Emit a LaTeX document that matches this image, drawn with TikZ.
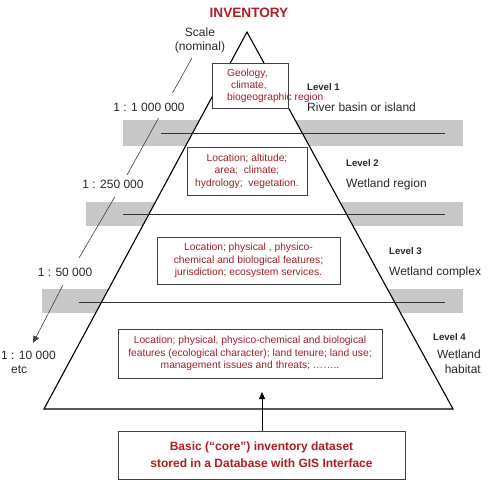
\documentclass[tikz,border=0pt]{standalone}
\usepackage{fontspec}
\setmainfont{Liberation Sans}
\usetikzlibrary{shadows,arrows.meta}
\definecolor{invred}{RGB}{178,28,36}
\definecolor{boxred}{RGB}{160,32,44}
\definecolor{bandgray}{RGB}{200,200,200}
\definecolor{txtgray}{RGB}{40,40,40}
\tikzset{
  band/.style={fill=bandgray,draw=none},
  infobox/.style={draw=black!75,line width=0.9pt,fill=white,rectangle,inner sep=0pt,
     drop shadow={shadow xshift=1.4pt,shadow yshift=-1.4pt,fill=black!45,opacity=0.8},
     text=boxred,align=center,font=\fontsize{10.3}{12.6}\selectfont},
  boxtxt/.style={text=boxred,align=left,inner sep=0pt,font=\fontsize{10.3}{12.2}\selectfont},
  lvl/.style={anchor=west,inner sep=0pt,font=\bfseries\fontsize{9.6}{11}\selectfont,text=txtgray},
  lvlname/.style={anchor=west,inner sep=0pt,font=\fontsize{12}{14.5}\selectfont,text=txtgray},
  scalelbl/.style={inner sep=0pt,font=\fontsize{12}{14}\selectfont,text=txtgray},
  scaleline/.style={draw=black!75,line width=0.6pt},
  bandline/.style={draw=black!80,line width=0.8pt},
}
\begin{document}
\begin{tikzpicture}[x=1pt,y=-1pt]
\useasboundingbox (0,0) rectangle (490,489);
% grey bands
\fill[band] (123,120) rectangle (463,146);
\fill[band] (86,202) rectangle (463,226);
\fill[band] (42,289) rectangle (463,313);
% pyramid
\coordinate (apex) at (247,32);
\coordinate (bl) at (44,409);
\coordinate (br) at (453,409);
\draw[fill=white,draw=black,line width=1.1pt,line join=miter] (apex) -- (br) -- (bl) -- cycle;
% lines in bands
\coordinate (l1a) at (161,133); \coordinate (l1b) at (445,133);
\coordinate (l2a) at (123,214); \coordinate (l2b) at (445,214);
\coordinate (l3a) at (79,302);  \coordinate (l3b) at (445,302);
\draw[bandline] (l1a) -- (l1b);
\draw[bandline] (l2a) -- (l2b);
\draw[bandline] (l3a) -- (l3b);
% title
\node[font=\bfseries\fontsize{13.6}{16}\selectfont,text=invred,inner sep=0pt] (title) at (249,13) {INVENTORY};
% boxes
\node[infobox,minimum width=76pt,minimum height=45pt] (b1) at (250,85.5) {};
\node[boxtxt,anchor=north west] (b1t) at (227,68.5) {Geology,\\\hspace*{4pt}climate,\\biogeographic region};
\node[infobox,minimum width=120pt,minimum height=48pt] (b2) at (247,171) {Location; altitude;\\area;\ \ climate;\\hydrology;\ \ vegetation.};
\node[infobox,minimum width=183pt,minimum height=47pt] (b3) at (248.5,260.5) {Location; physical , physico-\\chemical and biological features;\\jurisdiction; ecosystem services.};
\node[infobox,minimum width=264pt,minimum height=49pt] (b4) at (250,353.5) {Location; physical, physico-chemical and biological\\features (ecological character); land tenure; land use;\\management issues and threats; \ldots\ldots..};
\node[infobox,minimum width=287pt,minimum height=48pt,text=invred,font=\bfseries\fontsize{12}{17}\selectfont] (b5) at (261.5,455) {Basic (``core'') inventory dataset\\stored in a Database with GIS Interface};
% arrow from base box up
\coordinate (arrtip) at (262,392);
\draw[line width=0.9pt,-{Triangle[length=7pt,width=6pt]}] (b5.north -| arrtip) -- (arrtip);
% level labels
\node[lvl] (lv1) at (307,87) {Level 1};
\node[lvlname] (n1) at (307,107) {River basin or island};
\node[lvl] (lv2) at (346,163) {Level 2};
\node[lvlname] (n2) at (346,184) {Wetland region};
\node[lvl] (lv3) at (389,251) {Level 3};
\node[lvlname] (n3) at (389,272) {Wetland complex};
\node[lvl] (lv4) at (433,337) {Level 4};
\node[lvlname,align=right,anchor=north east] (n4) at (481,350) {Wetland\\habitat};
% scale labels
\node[scalelbl,align=center] (sc) at (200,40) {Scale\\(nominal)};
\node[scalelbl] (s1) at (149,107) {1 : 1 000 000};
\node[scalelbl] (s2) at (113,184) {1 : 250 000};
\node[scalelbl] (s3) at (65,272) {1 : 50 000};
\node[scalelbl,align=left,anchor=north west] (s4) at (1,351) {1 : 10 000\\\hspace*{10pt}etc};
% scale line segments
\coordinate (a0) at (192,58);   \coordinate (a1) at (172.5,93);
\coordinate (b0) at (158.6,118); \coordinate (b1) at (127,175);
\coordinate (c0) at (114.7,197); \coordinate (c1) at (79,258);
\coordinate (d0) at (63,285);   \coordinate (d1) at (33,343);
\draw[scaleline] (a0) -- (a1);
\draw[scaleline] (b0) -- (b1);
\draw[scaleline] (c0) -- (c1);
\draw[scaleline,-{Triangle[length=7pt,width=6pt]}] (d0) -- (d1);
\end{tikzpicture}
\end{document}
